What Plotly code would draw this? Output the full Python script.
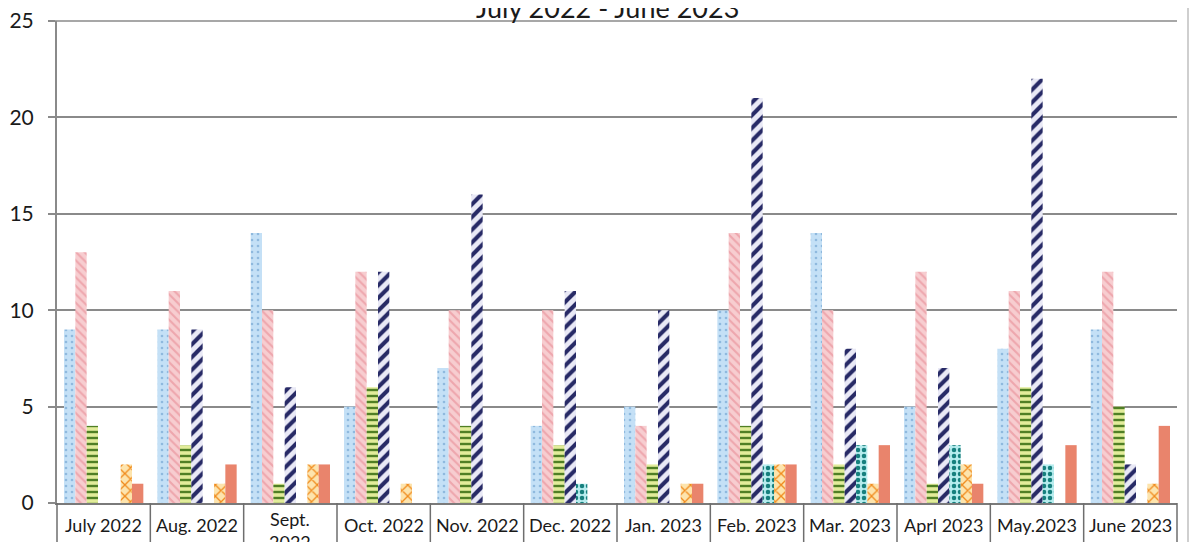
import plotly.graph_objects as go

months = ["July 2022", "Aug. 2022", "Sept. 2022", "Oct. 2022", "Nov. 2022", "Dec. 2022",
          "Jan. 2023", "Feb. 2023", "Mar. 2023", "Aprl 2023", "May.2023", "June 2023"]
month_labels = ["July 2022", "Aug. 2022", "Sept.<br>2022", "Oct. 2022", "Nov. 2022", "Dec. 2022",
                "Jan. 2023", "Feb. 2023", "Mar. 2023", "Aprl 2023", "May.2023", "June 2023"]

series_1 = [9, 9, 14, 5, 7, 4, 5, 10, 14, 5, 8, 9]
series_2 = [13, 11, 10, 12, 10, 10, 4, 14, 10, 12, 11, 12]
series_3 = [4, 3, 1, 6, 4, 3, 2, 4, 2, 1, 6, 5]
series_4 = [0, 9, 6, 12, 16, 11, 10, 21, 8, 7, 22, 2]
series_5 = [0, 0, 0, 0, 0, 1, 0, 2, 3, 3, 2, 0]
series_6 = [2, 1, 2, 1, 0, 0, 1, 2, 1, 2, 0, 1]
series_7 = [1, 2, 2, 0, 0, 0, 1, 2, 3, 1, 3, 4]

title_text = "July 2022 - June 2023"

styles = [
    # name, values, bg colour, pattern shape, pattern colour, size, solidity
    ("Series 1", series_1, "#c4e0f6", ".", "#8fb9de", 6, 0.15),
    ("Series 2", series_2, "#f7cdd0", "\\", "#eea6ad", 6, 0.35),
    ("Series 3", series_3, "#e2ec9a", "-", "#4f7f25", 6, 0.4),
    ("Series 4", series_4, "#e9e9f6", "/", "#272a66", 9, 0.45),
    ("Series 5", series_5, "#b6ecee", ".", "#16807e", 6, 0.45),
    ("Series 6", series_6, "#fde4ad", "x", "#f08a1c", 8, 0.3),
    ("Series 7", series_7, "#e9846c", "", "#e9846c", 8, 0.3),
]

fig = go.Figure()
for name, vals, bg, shp, fg, sz, sol in styles:
    fig.add_trace(go.Bar(
        x=months, y=vals, name=name,
        marker=dict(color=bg, line=dict(width=0),
                    pattern=dict(shape=shp, fgcolor=fg, fgopacity=1, size=sz,
                                 solidity=sol, fillmode="overlay")),
    ))

font_fam = "Lato, 'Open Sans', sans-serif"
plot_h = 482
plot_w = 1120

shapes = []
n = len(months)
for i in range(n + 1):
    shapes.append(dict(type="line", xref="paper", yref="paper",
                       x0=i / n, x1=i / n, y0=0, y1=-0.2,
                       line=dict(color="#6e6e6e", width=1.5)))
shapes.append(dict(type="line", xref="paper", yref="paper",
                   x0=(1188 - 57) / plot_w, x1=(1188 - 57) / plot_w, y0=-0.2, y1=1.2,
                   line=dict(color="#cfcfcf", width=2)))
# top gridline (plotly skips the one at the plot edge)
shapes.append(dict(type="line", xref="paper", yref="paper",
                   x0=-7 / plot_w, x1=1, y0=1, y1=1,
                   line=dict(color="#8a8a8a", width=1.6)))

annotations = []
for i, lab in enumerate(month_labels):
    two = "<br>" in lab
    annotations.append(dict(
        x=(i + 0.5) / n, xref="paper", yref="paper",
        y=-(530 - 503) / plot_h if two else -(525 - 503) / plot_h,
        text=lab, showarrow=False, xanchor="center", yanchor="middle",
        font=dict(family=font_fam, size=18, color="#1a1a1a")))
annotations.append(dict(
    x=(607 - 57) / plot_w, xref="paper", yref="paper", y=1 + 14 / plot_h,
    text=title_text, showarrow=False, xanchor="center", yanchor="middle",
    font=dict(family=font_fam, size=27, color="#1a1a1a")))

# page body has an 8px margin, so the figure is offset by 8px
fig.update_layout(
    width=1199, height=542,
    margin=dict(l=49, r=30, t=13, b=47, autoexpand=False),
    paper_bgcolor="white", plot_bgcolor="white",
    barmode="group", bargap=0.15, bargroupgap=0,
    showlegend=False,
    font=dict(family=font_fam, color="#1a1a1a"),
    shapes=shapes, annotations=annotations,
    xaxis=dict(showticklabels=False, showgrid=False, ticks="", automargin=False,
               showline=True, linecolor="#7a7a7a", linewidth=2, zeroline=False),
    yaxis=dict(range=[0, 25], dtick=5, tickmode="linear", automargin=False,
               showgrid=True, gridcolor="#8a8a8a", gridwidth=1.6,
               showline=True, linecolor="#8a8a8a", linewidth=2,
               ticks="outside", ticklen=7, tickcolor="#8a8a8a", tickwidth=1.6,
               ticklabelstandoff=10, ticklabeloverflow="allow", zeroline=False,
               tickfont=dict(family=font_fam, size=21, color="#1a1a1a")),
)

fig.write_html("out.html")
